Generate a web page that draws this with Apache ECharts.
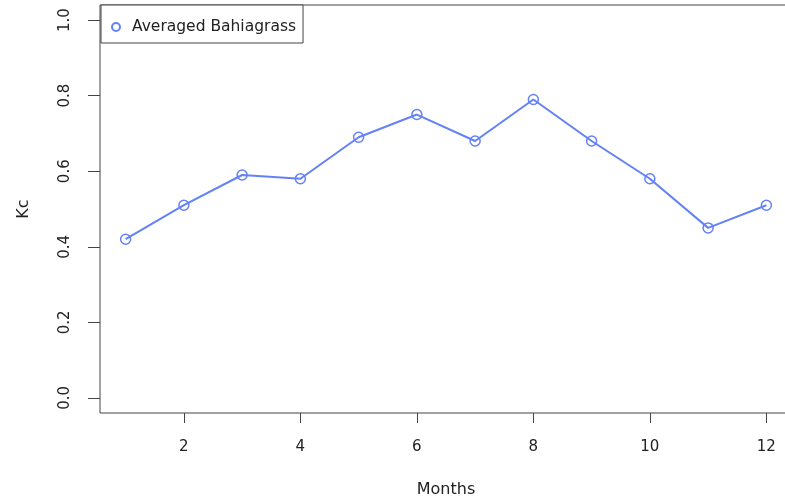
<!DOCTYPE html>
<html lang="en">
<head>
	<meta charset="UTF-8">
	<title>Kc</title>
</head>
<body style="margin:0;background:#fff">
	<div id="main" style="width: 785px;height: 499px"></div>
	<script src="https://cdn.jsdelivr.net/npm/echarts@6/dist/echarts.min.js"></script>
	<script>
		var months = [1, 2, 3, 4, 5, 6, 7, 8, 9, 10, 11, 12]
		var kc = [0.42, 0.51, 0.59, 0.58, 0.69, 0.75, 0.68, 0.79, 0.68, 0.58, 0.45, 0.51]
		var xTicks = [2, 4, 6, 8, 10, 12]
		var yTicks = [0, 0.2, 0.4, 0.6, 0.8, 1.0]
		var seriesName = 'Averaged Bahiagrass'

		var txt = '#222'
		var box = '#444'
		var blue = '#6482f6'
		var font = 'DejaVu Sans'

		var myChart = echarts.init(document.getElementById('main'));
		var option = {
			backgroundColor: '#fff',
			animation: false,
			grid: {
				left: 100, width: 692, top: 5, bottom: 86,
				outerBoundsMode: 'none',
				containLabel: false,
				show: true, borderColor: box, borderWidth: 1
			},
			legend: {
				data: [seriesName],
				left: 101, top: 5,
				icon: 'emptyCircle',
				itemWidth: 22, itemHeight: 8,
				padding: [14, 7, 8, 10],
				borderColor: box, borderWidth: 1, borderRadius: 0,
				backgroundColor: '#fff',
				itemStyle: { color: blue, borderColor: blue, borderWidth: 1.5 },
				textStyle: { color: txt, fontSize: 15.5, fontFamily: font }
			},
			xAxis: {
				type: 'value',
				min: 0.56, max: 12.44,
				name: 'Months',
				nameLocation: 'middle',
				nameGap: 69,
				nameTextStyle: { color: txt, fontSize: 16, fontFamily: font },
				axisLine: { show: false, onZero: false },
				splitLine: { show: false },
				axisTick: { show: true, customValues: xTicks, length: 10, lineStyle: { color: box } },
				axisLabel: { customValues: xTicks, margin: 27, color: txt, fontSize: 15, fontFamily: font }
			},
			yAxis: {
				type: 'value',
				min: -0.04, max: 1.04,
				name: 'Kc',
				nameLocation: 'middle',
				nameGap: 68,
				nameTextStyle: { color: txt, fontSize: 16, fontFamily: font },
				axisLine: { show: false, onZero: false },
				splitLine: { show: false },
				axisTick: { show: true, customValues: yTicks, length: 12, lineStyle: { color: box } },
				axisLabel: {
					customValues: yTicks, rotate: 90, margin: 27,
					color: txt, fontSize: 15, fontFamily: font,
					formatter: function (v) { return v.toFixed(1) }
				}
			},
			series: [{
				name: seriesName,
				type: 'line',
				data: months.map(function (m, i) { return [m, kc[i]] }),
				symbol: 'circle',
				symbolSize: 10,
				color: blue,
				lineStyle: { color: blue, width: 2 },
				itemStyle: { color: 'rgba(0,0,0,0)', borderColor: blue, borderWidth: 1.5 }
			}]
		};
		myChart.setOption(option);
	</script>
</body>
</html>
